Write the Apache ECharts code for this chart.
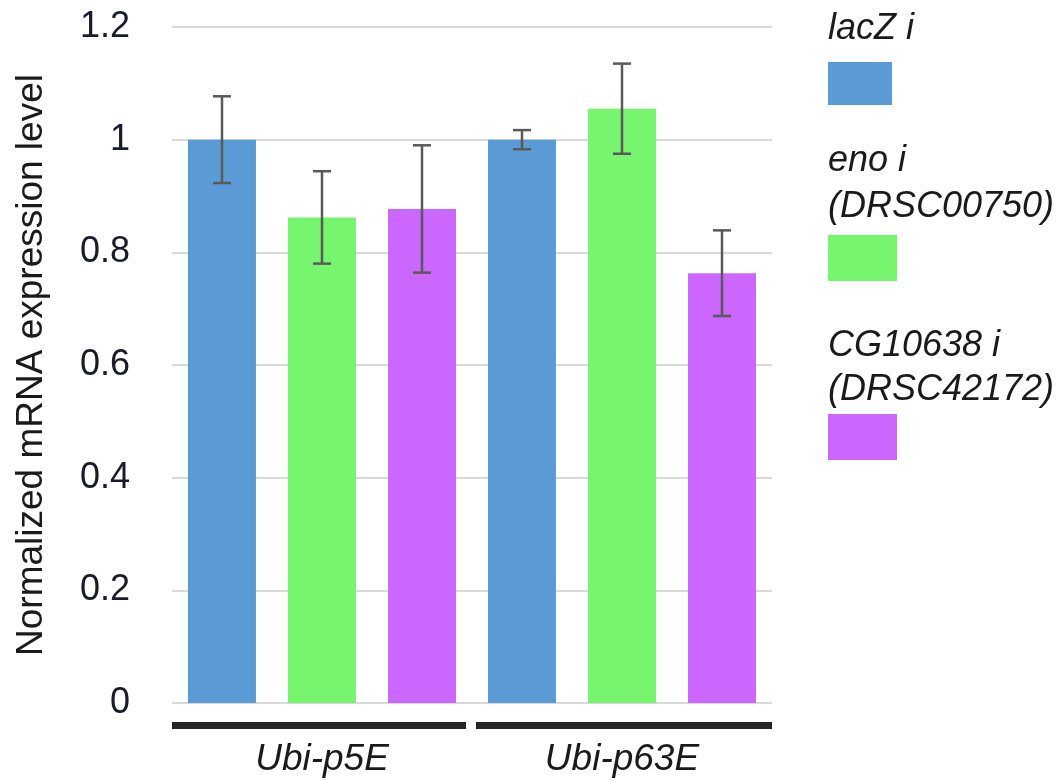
<!DOCTYPE html>
<html>
<head>
<meta charset="utf-8">
<title>Normalized mRNA expression level</title>
<script src="https://cdn.jsdelivr.net/npm/echarts@6/dist/echarts.min.js"></script>
<style>
  html, body { margin: 0; padding: 0; background: #ffffff; }
  #chart { width: 1062px; height: 781px; }
</style>
</head>
<body>
<div id="chart"></div>
<script>
// Groups on the x axis
const categories = ['Ubi-p5E', 'Ubi-p63E'];

// RNAi conditions (series) and their legend text lines
const seriesNames = ['lacZ i', 'eno i (DRSC00750)', 'CG10638 i (DRSC42172)'];
const legendLines = [['lacZ i'], ['eno i', '(DRSC00750)'], ['CG10638 i', '(DRSC42172)']];
const seriesColors = ['#5B9BD5', '#78F56F', '#CB66FF'];

// Mean normalized expression per group
const lacZValues = [1.0, 1.0];
const enoValues = [0.862, 1.055];
const cgValues = [0.877, 0.763];

// Error bar half-lengths per group
const lacZErr = [0.077, 0.017];
const enoErr = [0.082, 0.080];
const cgErr = [0.113, 0.076];

// Y axis ticks
const yMin = 0, yMax = 1.2, yStep = 0.2;

const allValues = [lacZValues, enoValues, cgValues];
const allErr = [lacZErr, enoErr, cgErr];

const FONT = '"Liberation Sans", Arial, sans-serif';
const BAR_W = 68;
const BAR_SPACE = 32;

const chart = echarts.init(document.getElementById('chart'), null, { renderer: 'canvas' });

const barSeries = seriesNames.map((name, k) => ({
  name: name,
  type: 'bar',
  barWidth: BAR_W,
  barGap: (BAR_SPACE / BAR_W * 100).toFixed(1) + '%',
  itemStyle: { color: seriesColors[k] },
  data: allValues[k],
  z: 2
}));

const errSeries = seriesNames.map((name, k) => ({
  name: name + ' error',
  type: 'custom',
  z: 5,
  silent: true,
  data: allValues[k].map((v, i) => [i, v, allErr[k][i]]),
  renderItem: function (params, api) {
    const ci = api.value(0), v = api.value(1), e = api.value(2);
    const offset = (k - 1) * (BAR_W + BAR_SPACE);
    const top = api.coord([ci, v + e]);
    const bot = api.coord([ci, v - e]);
    const x = top[0] + offset;
    const cap = 9;
    const style = { stroke: '#595959', lineWidth: 2.5 };
    return {
      type: 'group',
      children: [
        { type: 'line', shape: { x1: x, y1: top[1], x2: x, y2: bot[1] }, style: style },
        { type: 'line', shape: { x1: x - cap, y1: top[1], x2: x + cap, y2: top[1] }, style: style },
        { type: 'line', shape: { x1: x - cap, y1: bot[1], x2: x + cap, y2: bot[1] }, style: style }
      ]
    };
  }
}));

// Legend swatches: one single-item legend per series, text drawn separately above each swatch
const legendSwatchTop = [62, 235, 414];
const legends = seriesNames.map((name, k) => ({
  data: [name],
  left: 828,
  top: legendSwatchTop[k],
  padding: 0,
  icon: 'rect',
  itemWidth: k === 0 ? 64 : 69,
  itemHeight: k === 0 ? 43 : 46,
  formatter: () => '',
  selectedMode: false
}));

const legendTextY = [[29], [161, 207], [346, 390]];
const legendTexts = [];
legendLines.forEach((lines, k) => {
  lines.forEach((t, j) => {
    legendTexts.push({
      type: 'text',
      left: 828,
      top: legendTextY[k][j] - 21,
      style: {
        text: t,
        font: 'italic 36px ' + FONT,
        fill: '#1a1a1a',
        lineHeight: 42
      }
    });
  });
});

chart.setOption({
  animation: false,
  grid: { left: 172, right: 290, top: 27, bottom: 74 },
  legend: legends,
  xAxis: {
    type: 'category',
    data: categories,
    axisLine: { show: false },
    axisTick: { show: false },
    axisLabel: {
      margin: 36,
      fontFamily: FONT,
      fontStyle: 'italic',
      fontSize: 37,
      color: '#1a1a1a',
      lineHeight: 42
    }
  },
  yAxis: {
    type: 'value',
    min: yMin,
    max: yMax,
    interval: yStep,
    name: 'Normalized mRNA expression level',
    nameLocation: 'middle',
    nameRotate: 90,
    nameGap: 122,
    nameTextStyle: { fontFamily: FONT, fontSize: 37, color: '#1a1a1a' },
    axisLine: { show: false },
    axisTick: { show: false },
    axisLabel: {
      margin: 42,
      fontFamily: FONT,
      fontSize: 36,
      color: '#1a1a28',
      formatter: v => String(Math.round(v * 10) / 10)
    },
    splitLine: { lineStyle: { color: '#d9d9d9', width: 2 } }
  },
  series: barSeries.concat(errSeries),
  graphic: legendTexts
});

// Group bars under each category, split at category boundaries
const centers = categories.map((c, i) => chart.convertToPixel({ xAxisIndex: 0 }, i));
const band = centers.length > 1 ? centers[1] - centers[0] : 300;
const groupBars = centers.map((cx, i) => {
  const leftInset = i === 0 ? 0 : 4;
  const rightInset = i === centers.length - 1 ? 0 : 6;
  const x0 = cx - band / 2 + leftInset;
  const x1 = cx + band / 2 - rightInset;
  return {
    type: 'rect',
    shape: { x: x0, y: 722, width: x1 - x0, height: 7 },
    style: { fill: '#262626' }
  };
});
chart.setOption({ graphic: legendTexts.concat(groupBars) });
</script>
</body>
</html>
